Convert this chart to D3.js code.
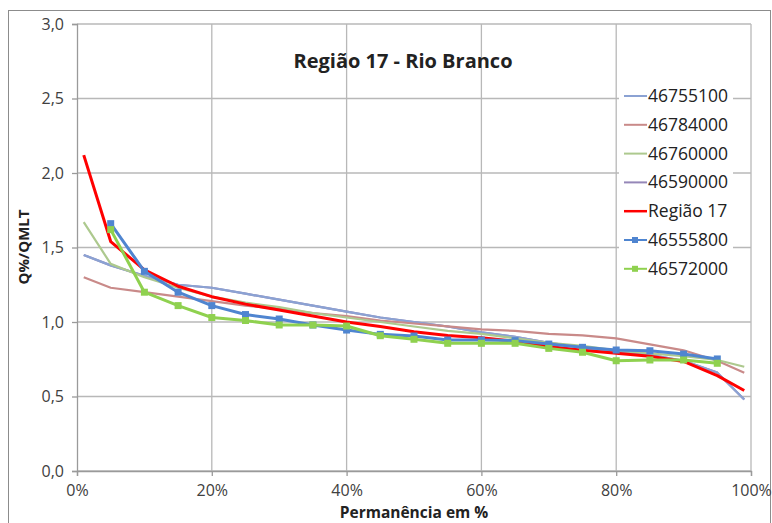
<!DOCTYPE html>
<html><head><meta charset="utf-8">
<script src="https://cdn.jsdelivr.net/npm/d3@7"></script>
<style>body{margin:0;background:#fff;}svg{display:block;font-family:"Open Sans",sans-serif;}</style>
</head><body>
<script>
const xAll = [1,5,10,15,20,25,30,35,40,45,50,55,60,65,70,75,80,85,90,95,99];
const xMark = [5,10,15,20,25,30,35,40,45,50,55,60,65,70,75,80,85,90,95];
const s46755100 = [1.45,1.38,1.31,1.25,1.23,1.19,1.15,1.11,1.07,1.03,1.00,0.97,0.93,0.90,0.86,0.83,0.80,0.78,0.74,0.66,0.48];
const s46784000 = [1.30,1.23,1.20,1.17,1.14,1.11,1.09,1.06,1.04,1.01,0.99,0.97,0.95,0.94,0.92,0.91,0.89,0.85,0.81,0.74,0.66];
const s46760000 = [1.67,1.39,1.30,1.23,1.17,1.13,1.10,1.06,1.03,1.00,0.97,0.94,0.92,0.89,0.86,0.84,0.81,0.79,0.77,0.745,0.70];
const s46590000 = [1.45,1.38,1.31,1.25,1.23,1.19,1.15,1.11,1.07,1.03,1.00,0.97,0.93,0.90,0.86,0.83,0.80,0.78,0.74,0.66,0.48];
const sRegiao17 = [2.12,1.54,1.35,1.24,1.17,1.12,1.08,1.04,1.00,0.97,0.935,0.91,0.895,0.87,0.835,0.81,0.79,0.77,0.735,0.64,0.54];
const s46555800 = [1.66,1.34,1.20,1.11,1.05,1.02,0.98,0.946,0.917,0.906,0.879,0.879,0.875,0.852,0.83,0.812,0.807,0.785,0.752];
const s46572000 = [1.62,1.20,1.11,1.03,1.01,0.98,0.98,0.973,0.908,0.884,0.857,0.857,0.857,0.823,0.797,0.74,0.745,0.745,0.723];
const yTicks = [0,0.5,1,1.5,2,2.5,3];
const xTicks = [0,20,40,60,80,100];
const title = "Região 17 - Rio Branco";

const series = [
  {name:"46755100", xs:xAll, ys:s46755100, color:"#8ba2d3", w:2.2, marker:false, z:1},
  {name:"46784000", xs:xAll, ys:s46784000, color:"#c98a89", w:2.2, marker:false, z:2},
  {name:"46760000", xs:xAll, ys:s46760000, color:"#adc98e", w:2.2, marker:false, z:3},
  {name:"46590000", xs:xAll, ys:s46590000, color:"#9587b8", w:2.2, marker:false, z:0},
  {name:"Região 17", xs:xAll, ys:sRegiao17, color:"#ff0000", w:3, marker:false, z:4},
  {name:"46555800", xs:xMark, ys:s46555800, color:"#4f85d0", w:3, marker:true, z:5},
  {name:"46572000", xs:xMark, ys:s46572000, color:"#8fd14f", w:3, marker:true, z:6}
];

const W=772,H=523;
const svg=d3.select("body").append("svg").attr("width",W).attr("height",H);
svg.append("rect").attr("x",8.5).attr("y",10.5).attr("width",762).attr("height",520).attr("fill","#fff").attr("stroke","#8c8c8c");

const x=d3.scaleLinear().domain([0,100]).range([77,751]);
const y=d3.scaleLinear().domain([0,3]).range([471,24]);

// gridlines
svg.append("g").selectAll("line.h").data(yTicks).join("line")
  .attr("x1",77).attr("x2",751).attr("y1",d=>y(d)).attr("y2",d=>y(d))
  .attr("stroke","#b8b8b8").attr("stroke-width",1.3);
svg.append("g").selectAll("line.v").data(xTicks.slice(1)).join("line")
  .attr("x1",d=>x(d)).attr("x2",d=>x(d)).attr("y1",24).attr("y2",471)
  .attr("stroke","#b8b8b8").attr("stroke-width",1.3);

// axes
const yAxis=d3.axisLeft(y).tickValues(yTicks).tickSize(5).tickPadding(8)
  .tickFormat(d=>d3.format(".1f")(d).replace(".",","));
const gy=svg.append("g").attr("transform","translate(77,0)").call(yAxis);
const xAxis=d3.axisBottom(x).tickValues(xTicks).tickSize(5).tickPadding(9).tickFormat(d=>d+"%");
const gx=svg.append("g").attr("transform","translate(0,471)").call(xAxis);
[gy,gx].forEach(g=>{
  g.select(".domain").attr("stroke","#9a9a9a").attr("stroke-width",1.3);
  g.selectAll(".tick line").attr("stroke","#9a9a9a").attr("stroke-width",1.3);
  g.selectAll("text").attr("fill","#404040").style("font-size","16px").style("font-family","'Open Sans',sans-serif");
});

// lines
const line=d3.line().x(d=>x(d[0])).y(d=>y(d[1]));
series.slice().sort((a,b)=>a.z-b.z).forEach(s=>{
  const pts=s.xs.map((v,i)=>[v,s.ys[i]]);
  svg.append("path").datum(pts).attr("d",line).attr("fill","none")
    .attr("stroke",s.color).attr("stroke-width",s.w).attr("stroke-linejoin","round");
  if(s.marker){
    svg.append("g").selectAll("rect").data(pts).join("rect")
      .attr("x",d=>x(d[0])-3.5).attr("y",d=>y(d[1])-3.5).attr("width",7).attr("height",7)
      .attr("fill",s.color);
  }
});

// title
svg.append("text").attr("x",403).attr("y",68).attr("text-anchor","middle")
  .style("font-size","20px").style("font-weight","bold").attr("fill","#222").text(title);

// axis titles
svg.append("text").attr("transform","translate(29,247) rotate(-90)").attr("text-anchor","middle")
  .style("font-size","15px").style("font-weight","bold").attr("fill","#222").text("Q%/QMLT");
svg.append("text").attr("x",414).attr("y",518).attr("text-anchor","middle")
  .style("font-size","15.5px").style("font-weight","bold").attr("fill","#222").text("Permanência em %");

// legend
const lg=svg.append("g");
lg.append("rect").attr("x",619).attr("y",80).attr("width",114).attr("height",204).attr("fill","#fff");
series.forEach((s,i)=>{
  const cy=96+i*28.8;
  lg.append("line").attr("x1",624).attr("x2",647).attr("y1",cy).attr("y2",cy)
    .attr("stroke",s.color).attr("stroke-width",s.name==="Região 17"?2.5:2);
  if(s.marker) lg.append("rect").attr("x",632).attr("y",cy-3).attr("width",6).attr("height",6).attr("fill",s.color);
  lg.append("text").attr("x",648).attr("y",cy+6).style("font-size","17.5px").attr("fill","#222").text(s.name);
});
</script>
</body></html>
